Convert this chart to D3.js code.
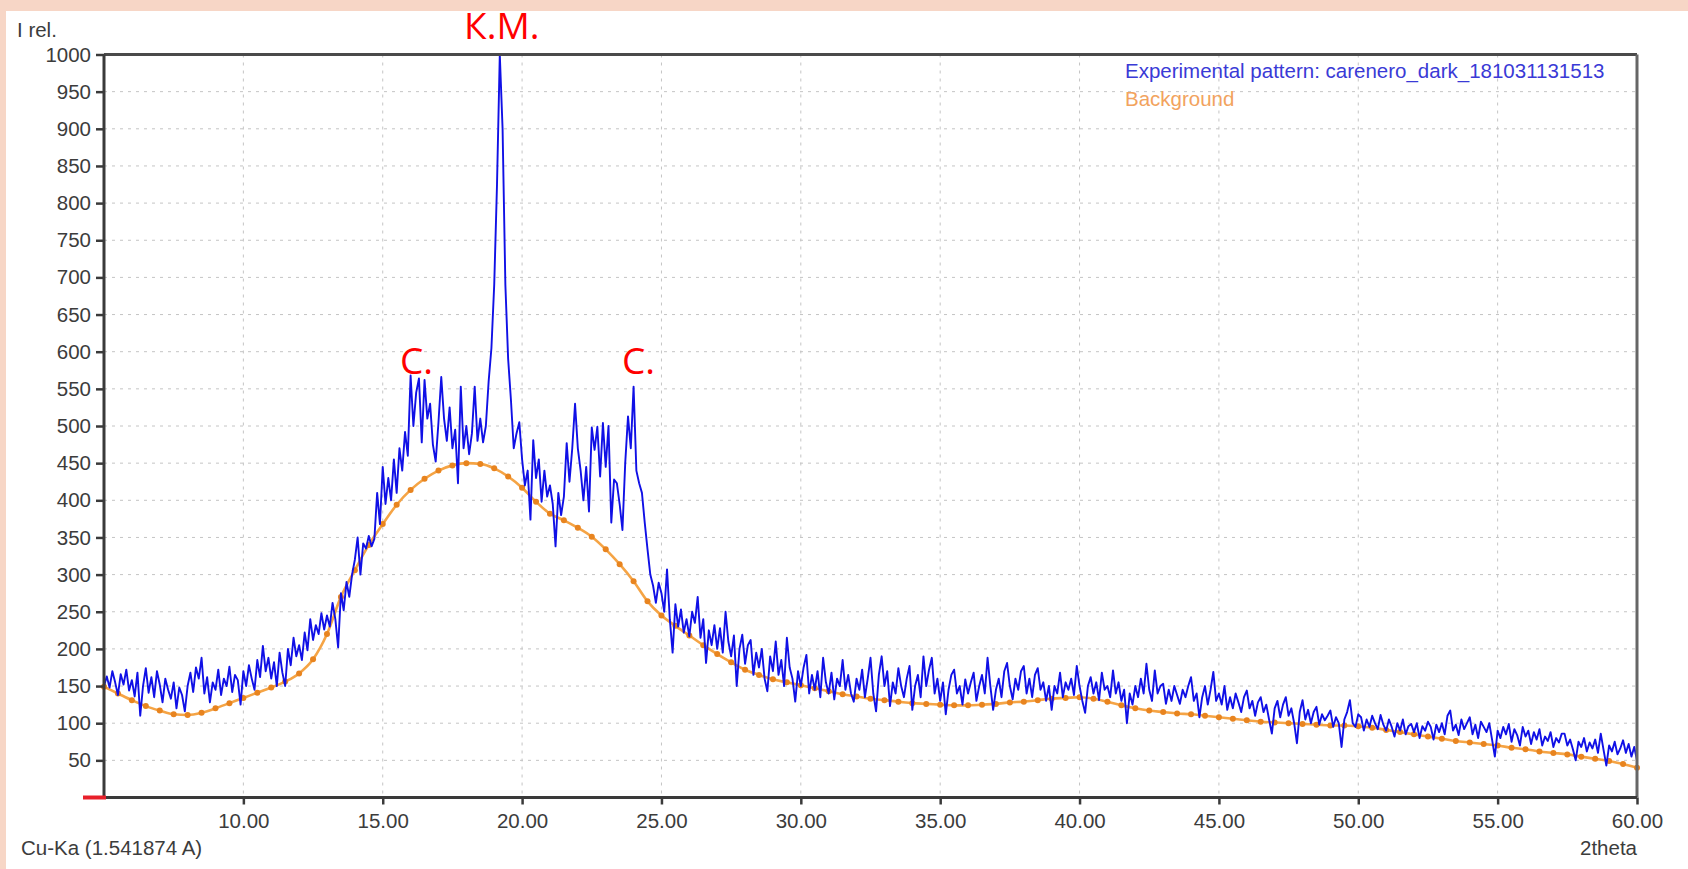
<!DOCTYPE html>
<html>
<head>
<meta charset="UTF-8">
<title>XRD pattern</title>
<style>
    html, body {
        margin: 0;
        padding: 0;
        background: #f7d6c6;
    }
    svg {
        display: block;
    }
    .lbl {
        font-family: "Liberation Sans", Arial, sans-serif;
        font-size: 20.5px;
        fill: #3c3c3c;
    }
    .note {
        font-family: "Open Sans", "Noto Sans", sans-serif;
        font-size: 37px;
        fill: #ff0000;
    }
</style>
</head>
<body>
<script src="https://cdnjs.cloudflare.com/ajax/libs/d3/7.8.5/d3.min.js"></script>
<script>

    // measured pattern, 2theta from 5.0 to 60.0 in steps of 0.1
    var expStart = 5.0, expStep = 0.1;
    var expIntensity = [
        150, 163, 148, 170, 155, 138, 166, 152, 172, 144,
        158, 136, 168, 110, 150, 174, 141, 162, 135, 170,
        152, 128, 160, 145, 133, 155, 120, 148, 138, 116,
        150, 168, 142, 175, 160, 188, 140, 162, 128, 155,
        145, 172, 138, 160, 150, 176, 142, 165, 158, 125,
        170, 150, 178, 160, 145, 185, 162, 204, 170, 188,
        160, 182, 150, 195, 168, 150, 200, 178, 215, 190,
        205, 185, 222, 198, 240, 212, 232, 220, 248, 226,
        245, 230, 262, 240, 202, 275, 252, 290, 270, 300,
        320, 350, 300, 342, 335, 352, 338, 348, 410, 368,
        445, 395, 430, 400, 455, 410, 470, 440, 492, 460,
        568, 500, 545, 564, 478, 562, 510, 530, 475, 452,
        505, 566, 510, 480, 525, 470, 495, 423, 553, 470,
        500, 462, 490, 553, 480, 510, 478, 500, 560, 605,
        690, 825, 1000, 900, 690, 590, 535, 470, 490, 505,
        455, 420, 440, 374, 481, 430, 455, 398, 440, 405,
        420, 395, 338, 410, 380, 405, 477, 425, 470, 530,
        470, 440, 400, 445, 385, 498, 468, 499, 432, 504,
        445, 500, 370, 428, 423, 395, 360, 450, 513, 470,
        553, 440, 423, 410, 370, 334, 300, 285, 262, 289,
        275, 250, 307, 240, 195, 260, 230, 253, 222, 240,
        217, 250, 235, 270, 215, 240, 181, 225, 205, 232,
        200, 228, 195, 250, 210, 190, 218, 150, 200, 219,
        180, 205, 212, 165, 195, 175, 200, 160, 143, 190,
        170, 210, 165, 185, 150, 215, 175, 160, 129, 170,
        150, 175, 192, 140, 165, 145, 170, 135, 188, 155,
        140, 168, 132, 160, 150, 185, 145, 165, 140, 129,
        160, 145, 172, 135, 160, 188, 140, 116, 165, 190,
        150, 170, 123, 155, 140, 174, 150, 135, 160, 177,
        118, 150, 165, 135, 190, 150, 172, 188, 140, 160,
        130, 155, 112, 145, 165, 172, 140, 150, 125, 159,
        140, 155, 168, 130, 150, 165, 140, 188, 150, 118,
        145, 160, 135, 170, 181, 150, 132, 160, 145, 170,
        177, 140, 160, 135, 165, 174, 145, 155, 130, 150,
        118, 150, 140, 168, 135, 155, 145, 160, 138, 177,
        150, 130, 114, 150, 162, 140, 155, 131, 168, 145,
        150, 135, 171, 140, 155, 130, 145, 100, 140, 125,
        150, 135, 160, 140, 180, 145, 130, 171, 140, 150,
        153, 126, 145, 130, 150, 138, 126, 145, 135, 150,
        162, 130, 140, 108, 135, 150, 125, 145, 169, 130,
        140, 125, 150, 118, 135, 120, 140, 128, 115, 135,
        144, 120, 130, 110, 128, 135, 115, 125, 105, 86,
        120, 130, 108, 125, 135, 110, 120, 100, 73, 115,
        131, 105, 118, 100, 115, 122, 98, 112, 104, 110,
        117, 95, 108, 100, 68, 105, 115, 131, 100, 95,
        112, 108, 90, 105, 95, 110, 100, 92, 111, 98,
        90, 105, 95, 82, 100, 90, 105, 85, 96, 99,
        88, 100, 80, 96, 90, 102, 95, 78, 98, 88,
        100, 85, 110, 117, 90, 98, 84, 105, 92, 100,
        108, 85, 98, 80, 102, 95, 88, 100, 78, 55,
        90, 80, 95, 85, 99, 75, 92, 84, 70, 95,
        82, 90, 72, 88, 78, 92, 70, 82, 76, 88,
        68, 80, 74, 86, 86, 70, 78, 65, 50, 75,
        68, 80, 62, 74, 66, 78, 60, 86, 64, 43,
        70, 62, 75, 58, 66, 77, 60, 72, 55, 68,
        50
    ];

    // fitted background, 2theta from 5.0 to 60.0 in steps of 0.5
    var bgStart = 5.0, bgStep = 0.5;
    var bgIntensity = [
        149, 140, 131, 123, 117, 112, 111, 114, 120, 127,
        134, 141, 148, 156, 167, 186, 220, 270, 306, 340,
        368, 394, 414, 429, 440, 447, 450, 449, 443, 432,
        417, 398, 382, 373, 363, 351, 334, 314, 291, 264,
        245, 231, 218, 205, 193, 182, 172, 165, 159, 155,
        151, 147, 143, 139, 136, 133, 131, 129, 127, 126,
        125, 124, 124, 125, 126, 128, 129, 131, 133, 134,
        135, 133, 129, 124, 120, 117, 115, 113, 112, 110,
        108, 106, 104, 102, 101, 100, 99, 98, 97, 97,
        96, 94, 91, 88, 85, 82, 79, 76, 74, 72,
        70, 67, 65, 62, 60, 58, 55, 52, 49, 45,
        40
    ];

    var yTicks = [50, 100, 150, 200, 250, 300, 350, 400, 450, 500, 550, 600, 650, 700, 750, 800, 850, 900, 950, 1000];
    var xTicks = [10, 15, 20, 25, 30, 35, 40, 45, 50, 55, 60];

    var legendLabels = ["Experimental pattern: carenero_dark_181031131513", "Background"];
    var notes = [
        { text: "К.М.", x: 19.27, y: 1021, anchor: "middle" },
        { text: "С.", x: 15.62, y: 570, anchor: "start" },
        { text: "С.", x: 23.58, y: 570, anchor: "start" }
    ];

    var width = 1688,
        height = 869;

    var expData = expIntensity.map(function(v, i) { return [expStart + i * expStep, v]; });
    var bgData = bgIntensity.map(function(v, i) { return [bgStart + i * bgStep, v]; });

    var x = d3.scaleLinear().domain([5, 60]).range([104, 1637]);
    var y = d3.scaleLinear().domain([0, 1000]).range([797.5, 54.5]);

    var svg = d3.select("body")
        .append("svg")
        .attr("width", width)
        .attr("height", height);

    // white panel inside the peach border
    svg.append("rect")
        .attr("x", 6)
        .attr("y", 11)
        .attr("width", width - 6)
        .attr("height", height - 11)
        .attr("fill", "#ffffff");

    // dashed grid
    svg.append("g")
        .selectAll("line")
        .data(yTicks.filter(function(d) { return d < 1000; }))
        .enter().append("line")
        .attr("x1", x(5))
        .attr("x2", x(60))
        .attr("y1", function(d) { return y(d); })
        .attr("y2", function(d) { return y(d); })
        .attr("stroke", "#c4c4c4")
        .attr("stroke-width", 1)
        .attr("stroke-dasharray", "3,5");

    svg.append("g")
        .selectAll("line")
        .data(xTicks.filter(function(d) { return d < 60; }))
        .enter().append("line")
        .attr("x1", function(d) { return x(d); })
        .attr("x2", function(d) { return x(d); })
        .attr("y1", y(1000))
        .attr("y2", y(0))
        .attr("stroke", "#c4c4c4")
        .attr("stroke-width", 1)
        .attr("stroke-dasharray", "3,5");

    // background curve with its dots
    svg.append("path")
        .datum(bgData)
        .attr("fill", "none")
        .attr("stroke", "#f5a445")
        .attr("stroke-width", 2.6)
        .attr("d", d3.line()
            .curve(d3.curveMonotoneX)
            .x(function(d) { return x(d[0]); })
            .y(function(d) { return y(d[1]); }));

    svg.append("g")
        .selectAll("circle")
        .data(bgData)
        .enter().append("circle")
        .attr("cx", function(d) { return x(d[0]); })
        .attr("cy", function(d) { return y(d[1]); })
        .attr("r", 3)
        .attr("fill", "#e8841f");

    // experimental pattern
    svg.append("path")
        .datum(expData)
        .attr("fill", "none")
        .attr("stroke", "#1010e6")
        .attr("stroke-width", 1.9)
        .attr("stroke-linejoin", "round")
        .attr("d", d3.line()
            .x(function(d) { return x(d[0]); })
            .y(function(d) { return y(d[1]); }));

    // axes
    var yAxis = svg.append("g")
        .attr("transform", "translate(" + x(5) + ",0)")
        .call(d3.axisLeft(y).tickValues(yTicks).tickSize(8).tickPadding(5).tickFormat(d3.format("d")));
    var xAxis = svg.append("g")
        .attr("transform", "translate(0," + y(0) + ")")
        .call(d3.axisBottom(x).tickValues(xTicks).tickSize(7).tickPadding(9).tickFormat(d3.format(".2f")));

    [yAxis, xAxis].forEach(function(a) {
        a.attr("font-size", null).attr("font-family", null);
        a.select(".domain").remove();
        a.selectAll(".tick line").attr("stroke", "#3a3a3a").attr("stroke-width", 2.5);
        a.selectAll(".tick text")
            .attr("class", "lbl")
            .attr("fill", null);
    });

    // frame
    svg.append("line")
        .attr("x1", x(5)).attr("x2", x(60))
        .attr("y1", y(1000)).attr("y2", y(1000))
        .attr("stroke", "#4a4a4a").attr("stroke-width", 3);
    svg.append("line")
        .attr("x1", x(60)).attr("x2", x(60))
        .attr("y1", y(1000)).attr("y2", y(0))
        .attr("stroke", "#666666").attr("stroke-width", 3);
    svg.append("line")
        .attr("x1", x(5)).attr("x2", x(5))
        .attr("y1", y(1000)).attr("y2", y(0))
        .attr("stroke", "#3a3a3a").attr("stroke-width", 3);
    svg.append("line")
        .attr("x1", x(5)).attr("x2", x(60))
        .attr("y1", y(0)).attr("y2", y(0))
        .attr("stroke", "#3a3a3a").attr("stroke-width", 3);

    // red marker at the origin
    svg.append("line")
        .attr("x1", x(5) - 21).attr("x2", x(5) + 2)
        .attr("y1", y(0)).attr("y2", y(0))
        .attr("stroke", "#e8202a").attr("stroke-width", 4);

    // axis captions
    svg.append("text").attr("class", "lbl").attr("x", 17).attr("y", 37).text("I rel.");
    svg.append("text").attr("class", "lbl").attr("x", 21).attr("y", 855).text("Cu-Ka (1.541874 A)");
    svg.append("text").attr("class", "lbl").attr("x", x(60)).attr("y", 855)
        .attr("text-anchor", "end").text("2theta");

    // legend
    svg.append("g")
        .selectAll("text")
        .data(legendLabels)
        .enter().append("text")
        .attr("class", "lbl")
        .attr("x", 1125)
        .attr("y", function(d, i) { return 78 + i * 28; })
        .style("fill", function(d, i) { return i === 0 ? "#3a3ad6" : "#f2a35e"; })
        .text(function(d) { return d; });

    // phase marks
    svg.append("g")
        .selectAll("text")
        .data(notes)
        .enter().append("text")
        .attr("class", "note")
        .attr("x", function(d) { return x(d.x); })
        .attr("y", function(d) { return y(d.y); })
        .attr("text-anchor", function(d) { return d.anchor; })
        .text(function(d) { return d.text; });

</script>
</body>
</html>
